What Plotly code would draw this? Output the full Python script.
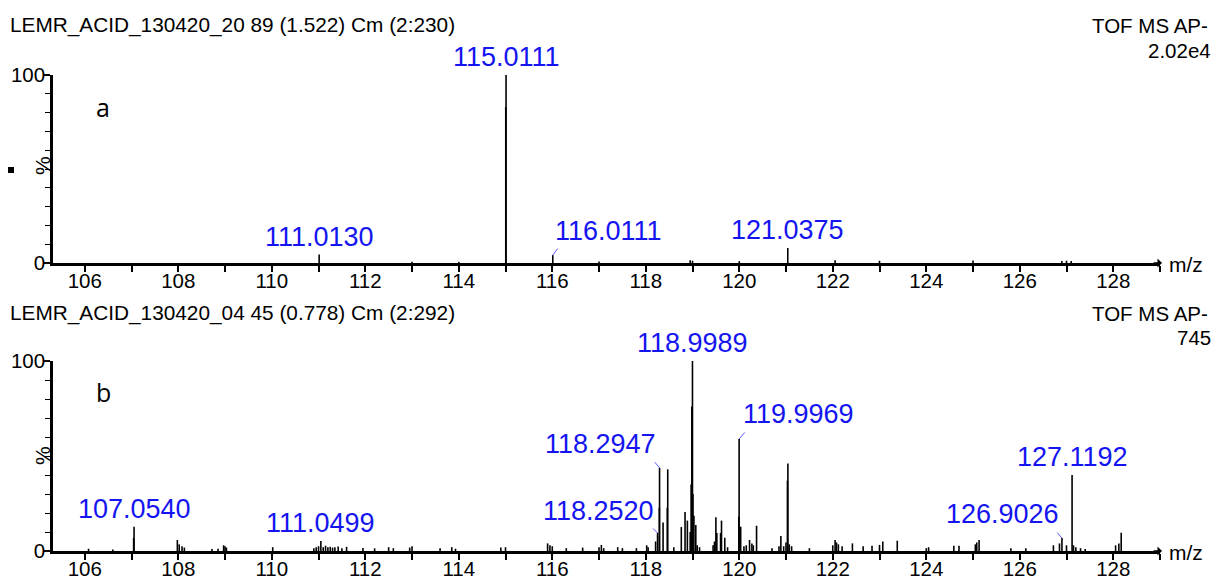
import plotly.graph_objects as go

# ---------------- data ----------------
# Panel a (top) : m/z, relative intensity (%)
a_mz = [111.0130, 113.0, 114.0, 115.0111, 115.005, 116.0111, 117.0, 118.95, 119.0,
        120.0, 121.0375, 122.05, 123.0, 125.0, 126.9, 127.0, 127.1]
a_int = [4.5, 0.6, 0.6, 100.0, 83.0, 4.2, 0.8, 1.5, 1.2,
         1.0, 8.0, 1.5, 1.2, 1.3, 1.0, 1.2, 1.0]

# Panel b (bottom)
b_mz = [106.08, 106.6, 107.045, 107.0540, 107.98, 108.02, 108.08, 108.13, 108.72, 108.85,
        108.97, 109.0, 109.03, 110.02, 110.9, 110.95, 111.0, 111.0499, 111.1, 111.15,
        111.2, 111.25, 111.3, 111.35, 111.42, 111.5, 111.6, 111.95, 112.2, 112.5,
        112.6, 112.95, 113.0, 113.6, 113.85, 113.93, 114.9, 115.0, 115.9, 115.95,
        116.0, 116.3, 116.65, 117.0, 117.05, 117.1, 117.4, 117.5, 117.8, 118.02,
        118.05, 118.21, 118.2520, 118.29, 118.2947, 118.37, 118.46, 118.47, 118.6, 118.76,
        118.84, 118.89, 118.95, 118.97, 118.985, 118.9989, 119.01, 119.03, 119.07, 119.1,
        119.15, 119.44, 119.47, 119.5, 119.52, 119.6, 119.62, 119.69, 119.75, 119.99,
        119.9969, 120.03, 120.1, 120.15, 120.22, 120.27, 120.3, 120.37, 120.7, 120.85,
        120.89, 120.95, 121.0, 121.03, 121.04, 121.07, 121.12, 121.5, 122.0, 122.05,
        122.08, 122.12, 122.2, 122.42, 122.65, 122.84, 123.0, 123.07, 123.38, 124.0,
        124.05, 124.59, 124.7, 125.05, 125.08, 125.13, 125.81, 126.13, 126.72, 126.85,
        126.9026, 127.0, 127.1192, 127.15, 127.2, 127.3, 127.4, 128.05, 128.12, 128.17]
b_int = [1.2, 0.8, 6.8, 12.8, 5.8, 3.5, 2.5, 1.8, 1.0, 1.2,
         3.0, 2.5, 1.8, 2.0, 1.5, 2.0, 2.5, 5.3, 2.0, 2.8,
         2.0, 2.2, 1.8, 2.0, 2.4, 1.5, 2.2, 1.6, 1.4, 2.0,
         1.5, 1.8, 2.5, 1.5, 2.0, 1.2, 1.8, 2.0, 4.0, 3.0,
         2.5, 1.5, 1.8, 2.0, 3.2, 1.5, 2.0, 1.5, 1.5, 3.0,
         2.0, 5.0, 9.5, 22.8, 43.8, 15.0, 22.8, 43.0, 2.0, 12.6,
         20.5, 16.0, 10.0, 35.0, 76.0, 100.0, 30.0, 18.6, 13.7, 3.0,
         2.0, 3.0, 5.0, 17.7, 9.5, 9.5, 16.0, 7.0, 2.0, 18.0,
         59.0, 12.8, 2.5, 3.0, 5.8, 4.0, 3.0, 13.3, 1.5, 2.5,
         7.9, 2.5, 4.5, 37.0, 46.0, 3.5, 2.5, 1.5, 3.0, 5.8,
         4.5, 3.5, 2.5, 4.0, 2.5, 2.7, 3.2, 5.0, 5.4, 1.5,
         2.0, 2.8, 2.8, 3.5, 4.5, 5.8, 1.5, 1.5, 3.0, 4.0,
         6.8, 3.0, 40.0, 3.0, 2.0, 1.5, 1.0, 3.0, 4.0, 9.6]

# Labelled peaks: (m/z text, anchor, xshift px, yshift px, connector (ax, ay) or None)
a_labels = [("111.0130", "center", 0, 1, None),
            ("115.0111", "center", 0, 1, None),
            ("116.0111", "left", 0, 7, (6, -8)),
            ("121.0375", "center", 0, 1, None)]
b_labels = [("107.0540", "center", 0, 1, None),
            ("111.0499", "center", 0, 1, None),
            ("118.2520", "right", -2, 5, (-6, -6)),
            ("118.2947", "right", -2, 7, (-6, -7)),
            ("118.9989", "center", 0, 1, None),
            ("119.9969", "left", 2, 8, (7, -8)),
            ("126.9026", "right", -1, 7, (-6, -7)),
            ("127.1192", "center", 0, 1, None)]

a_header = "LEMR_ACID_130420_20 89 (1.522) Cm (2:230)"
b_header = "LEMR_ACID_130420_04 45 (0.778) Cm (2:292)"
a_scale = "2.02e4"
b_scale = "745"
instrument = "TOF MS AP-"
x_range = [105.32, 129.0]
x_ticks = [106, 108, 110, 112, 114, 116, 118, 120, 122, 124, 126, 128]

# ---------------- figure ----------------
W, H = 1216, 579
FONT = "Arial, Liberation Sans, sans-serif"
BLUE = "#1414f0"


def px_x(p):
    return p / W


def px_y(p):
    return 1 - p / H


def sticks(mz, inten):
    xs, ys = [], []
    for m, v in zip(mz, inten):
        xs += [m, m, None]
        ys += [0, v, None]
    return xs, ys


fig = go.Figure()
for mz, it, xa, ya in [(a_mz, a_int, "x", "y"), (b_mz, b_int, "x2", "y2")]:
    xs, ys = sticks(mz, it)
    fig.add_trace(go.Scatter(x=xs, y=ys, mode="lines", xaxis=xa, yaxis=ya,
                             line=dict(color="black", width=1.6),
                             hoverinfo="skip", showlegend=False))

xdom = [px_x(53), px_x(1160)]
ydom_a = [px_y(263), px_y(75)]
ydom_b = [px_y(551), px_y(361)]

xaxis_common = dict(range=x_range, domain=xdom, showline=True, linecolor="black",
                    linewidth=2.5, ticks="outside", ticklen=6, tickwidth=1.5,
                    tickcolor="black", tickvals=x_ticks, showgrid=False, zeroline=False,
                    automargin=False, ticklabelstandoff=-8,
                    tickfont=dict(family=FONT, size=20.5, color="black"),
                    minor=dict(dtick=1, tick0=0, ticks="outside", ticklen=6,
                               tickwidth=1.5, tickcolor="black", showgrid=False))
yaxis_common = dict(range=[0, 100], showline=True, linecolor="black", linewidth=2.5,
                    ticks="outside", ticklen=6, tickwidth=1.5, tickcolor="black",
                    tickvals=[0, 100], showgrid=False, zeroline=False,
                    automargin=False, ticklabelstandoff=-5,
                    tickfont=dict(family=FONT, size=20.5, color="black"),
                    minor=dict(dtick=10, tick0=0, ticks="outside", ticklen=5,
                               tickwidth=1.2, tickcolor="black", showgrid=False))

fig.update_layout(
    width=W, height=H, margin=dict(l=0, r=0, t=0, b=0, pad=0, autoexpand=False),
    paper_bgcolor="white", plot_bgcolor="white", showlegend=False,
    xaxis=dict(**xaxis_common, anchor="y"),
    yaxis=dict(**yaxis_common, domain=ydom_a, anchor="x"),
    xaxis2=dict(**xaxis_common, anchor="y2"),
    yaxis2=dict(**yaxis_common, domain=ydom_b, anchor="x2"),
)

ann = []
# peak labels
for labels, mz, it, xr, yr in [(a_labels, a_mz, a_int, "x", "y"),
                               (b_labels, b_mz, b_int, "x2", "y2")]:
    for txt, anchor, xs, ys, conn in labels:
        m = float(txt)
        i = mz.index(m)
        v = it[i]
        ann.append(dict(x=m, y=v, xref=xr, yref=yr, text=txt, showarrow=False,
                        xanchor=anchor, yanchor="bottom", xshift=xs, yshift=ys,
                        font=dict(family=FONT, size=27, color=BLUE)))
        if conn:
            ann.append(dict(x=m, y=v, xref=xr, yref=yr, text="", showarrow=True,
                            ax=conn[0], ay=conn[1], arrowhead=0, arrowwidth=1,
                            arrowcolor="#5a5aff", standoff=0, startstandoff=0))

# header texts
for hdr, scale, yc1, yc2 in [(a_header, a_scale, 25, 51), (b_header, b_scale, 313, 337)]:
    ann.append(dict(x=px_x(8), y=px_y(yc1), xref="paper", yref="paper", text=hdr,
                    showarrow=False, xanchor="left", yanchor="middle",
                    font=dict(family=FONT, size=20.8, color="black")))
    ann.append(dict(x=px_x(1210), y=px_y(yc1), xref="paper", yref="paper", text=instrument,
                    showarrow=False, xanchor="right", yanchor="middle",
                    font=dict(family=FONT, size=20.5, color="black")))
    ann.append(dict(x=px_x(1213), y=px_y(yc2), xref="paper", yref="paper", text=scale,
                    showarrow=False, xanchor="right", yanchor="middle",
                    font=dict(family=FONT, size=20.5, color="black")))

# panel letters, % labels, m/z
for letter, yl, yp, yax in [("a", 107, 166, 264), ("b", 392, 456, 552)]:
    ann.append(dict(x=px_x(103), y=px_y(yl), xref="paper", yref="paper", text=letter,
                    showarrow=False, xanchor="center", yanchor="middle",
                    font=dict(family="Open Sans, sans-serif", size=25, color="black")))
    ann.append(dict(x=px_x(42), y=px_y(yp), xref="paper", yref="paper", text="%",
                    showarrow=False, textangle=-90, xanchor="center", yanchor="middle",
                    font=dict(family=FONT, size=21, color="black")))
    ann.append(dict(x=px_x(1186), y=px_y(yax), xref="paper", yref="paper", text="m/z",
                    showarrow=False, xanchor="center", yanchor="middle",
                    font=dict(family=FONT, size=21, color="black")))
    ann.append(dict(x=px_x(1162), y=px_y(yax - 1), xref="paper", yref="paper", text="",
                    showarrow=True, axref="pixel", ax=-10, ay=0, arrowhead=1,
                    arrowsize=1, arrowwidth=1.5, arrowcolor="black"))

fig.update_layout(annotations=ann)

# small black square marker left of the top panel
fig.add_shape(type="rect", xref="paper", yref="paper",
              x0=px_x(8), x1=px_x(14), y0=px_y(173), y1=px_y(167),
              fillcolor="black", line=dict(width=0))

fig.write_html("out.html")
